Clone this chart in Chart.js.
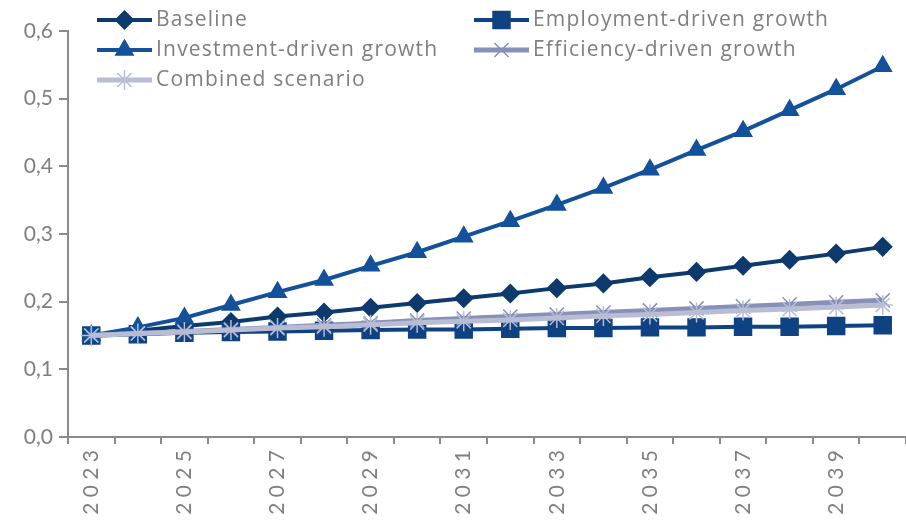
<!DOCTYPE html>
<html>
<head>
<meta charset="utf-8">
<script src="https://cdn.jsdelivr.net/npm/chart.js@4/dist/chart.umd.min.js"></script>
<style>
  html, body { margin: 0; padding: 0; background: #fff; }
  #wrap { width: 906px; height: 520px; }
</style>
</head>
<body>
<div id="wrap"><canvas id="chart" width="906" height="520"></canvas></div>
<script>
// years on the x axis
const years = ['2023','2024','2025','2026','2027','2028','2029','2030','2031',
               '2032','2033','2034','2035','2036','2037','2038','2039','2040'];

// series values
const baseline   = [0.150,0.157,0.164,0.170,0.178,0.184,0.191,0.198,0.205,0.212,0.220,0.227,0.236,0.244,0.253,0.262,0.271,0.281];
const employment = [0.150,0.152,0.154,0.155,0.156,0.157,0.158,0.159,0.159,0.160,0.161,0.161,0.162,0.162,0.163,0.163,0.164,0.165];
const investment = [0.150,0.162,0.176,0.195,0.214,0.232,0.253,0.273,0.296,0.319,0.343,0.368,0.395,0.424,0.452,0.483,0.514,0.548];
const efficiency = [0.150,0.153,0.156,0.159,0.162,0.165,0.168,0.172,0.175,0.178,0.181,0.184,0.187,0.190,0.193,0.196,0.199,0.202];
const combined   = [0.150,0.153,0.155,0.158,0.161,0.163,0.166,0.169,0.171,0.173,0.176,0.179,0.181,0.184,0.187,0.189,0.192,0.195];

const seriesNames = ['Baseline','Employment-driven growth','Investment-driven growth','Efficiency-driven growth','Combined scenario'];
const yTicks = [0, 0.1, 0.2, 0.3, 0.4, 0.5, 0.6];

const FONT = 'Lato, "Open Sans", sans-serif';
const LEGEND_FONT = '"Open Sans", Lato, sans-serif';
const TEXT = '#7f7f7f';
const AXIS = '#8a8a8a';

function ds(i, data, color, style, radius, width, order) {
  return {
    label: seriesNames[i], data: data,
    borderColor: color, backgroundColor: color,
    borderWidth: width, pointStyle: style, pointRadius: radius, pointHoverRadius: radius,
    pointBorderColor: color, pointBackgroundColor: color, pointBorderWidth: 1.5,
    tension: 0, order: order
  };
}

// legend drawn by hand: two columns laid over the top of the plot
const legendPlugin = {
  id: 'gridLegend',
  afterDraw(chart) {
    const ctx = chart.ctx;
    const colX = [97, 474];
    chart.data.datasets.forEach((d, i) => {
      const x0 = colX[i % 2];
      const y = 20 + Math.floor(i / 2) * 30;
      ctx.save();
      ctx.strokeStyle = d.borderColor;
      ctx.lineWidth = d.borderWidth;
      ctx.beginPath();
      ctx.moveTo(x0, y);
      ctx.lineTo(x0 + 55, y);
      ctx.stroke();
      ctx.fillStyle = d.backgroundColor;
      ctx.lineWidth = d.pointBorderWidth;
      Chart.helpers.drawPoint(ctx, {
        pointStyle: d.pointStyle, radius: d.pointRadius, rotation: 0,
        borderWidth: d.pointBorderWidth
      }, x0 + 27.5, y);
      ctx.fillStyle = TEXT;
      ctx.font = '21px ' + LEGEND_FONT;
      ctx.letterSpacing = '1.2px';
      ctx.textBaseline = 'middle';
      ctx.textAlign = 'left';
      ctx.fillText(d.label, x0 + 59, y);
      ctx.restore();
    });
  }
};

new Chart(document.getElementById('chart'), {
  type: 'line',
  data: {
    labels: years,
    datasets: [
      ds(0, baseline,   '#0d3a6d', 'rectRot',  9, 4, 4),
      ds(1, employment, '#0f4282', 'rect',    12, 4, 3),
      ds(2, investment, '#13519b', 'triangle',10, 4, 2),
      ds(3, efficiency, '#8690b8', 'crossRot',10, 5, 1),
      ds(4, combined,   '#b8bdd4', 'star',    10, 5, 0)
    ]
  },
  options: {
    responsive: false,
    animation: false,
    events: [],
    layout: { autoPadding: false, padding: { top: 31, right: 0, left: 0, bottom: 0 } },
    plugins: { legend: { display: false }, tooltip: { enabled: false } },
    scales: {
      x: {
        type: 'category',
        offset: true,
        grid: { offset: true, drawOnChartArea: false, drawTicks: true, tickLength: 7, color: AXIS, lineWidth: 2 },
        border: { display: true, color: AXIS, width: 2 },
        ticks: {
          autoSkip: false, minRotation: 90, maxRotation: 90, padding: 6,
          color: TEXT, font: { family: FONT, size: 21 },
          callback: (v, i) => i % 2 === 0 ? years[i].split('').join(' ') : ''
        },
        afterFit: s => { s.height = 83; s.paddingLeft = 0; s.paddingRight = 0; }
      },
      y: {
        min: 0, max: 0.6,
        afterBuildTicks: s => { s.ticks = yTicks.map(v => ({ value: v })); },
        grid: { drawOnChartArea: false, drawTicks: true, tickLength: 9, color: AXIS, lineWidth: 2 },
        border: { display: true, color: AXIS, width: 2 },
        ticks: {
          padding: 6, color: TEXT, font: { family: FONT, size: 21 },
          callback: v => v.toFixed(1).replace('.', ',')
        },
        afterFit: s => { s.width = 68; }
      }
    }
  },
  plugins: [legendPlugin]
});
</script>
</body>
</html>
